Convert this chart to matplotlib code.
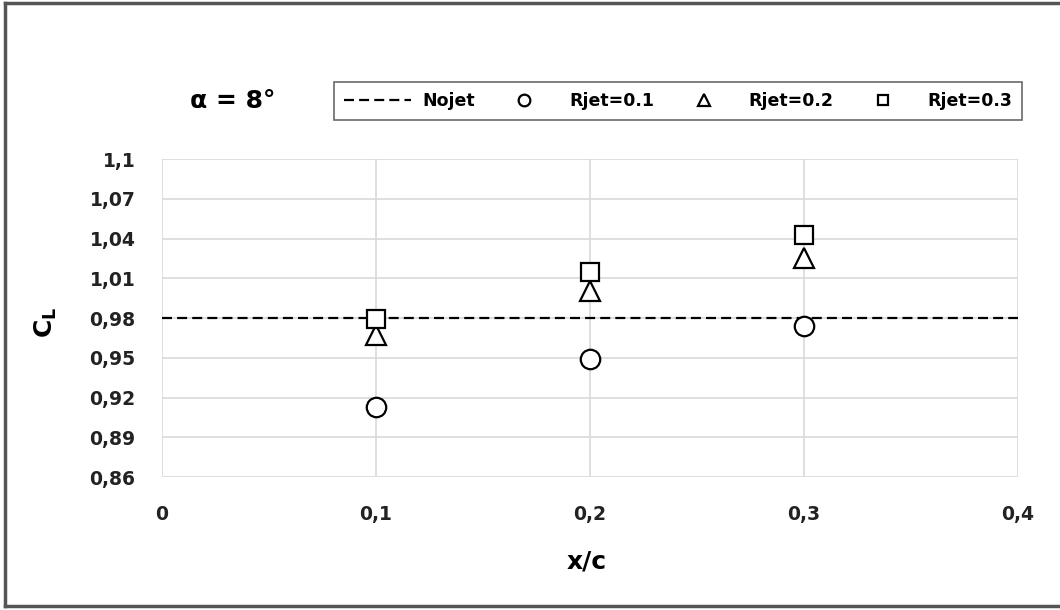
#!/usr/bin/env python3
"""lift coefficient vs jet position, alpha = 8 deg"""
import matplotlib.pyplot as plt
from matplotlib.lines import Line2D
from matplotlib.ticker import FuncFormatter

# data
x_pos = [0.1, 0.2, 0.3]
cl_nojet = 0.98
cl_rjet01 = [0.9125, 0.949, 0.974]
cl_rjet02 = [0.967, 1.0005, 1.0255]
cl_rjet03 = [0.979, 1.0145, 1.043]
y_ticks = [0.86, 0.89, 0.92, 0.95, 0.98, 1.01, 1.04, 1.07, 1.1]
x_ticks = [0, 0.1, 0.2, 0.3, 0.4]

plt.rcParams['font.family'] = ['DejaVu Sans']
plt.rcParams['font.weight'] = 'bold'
plt.rcParams['mathtext.fontset'] = 'custom'
plt.rcParams['mathtext.rm'] = 'DejaVu Sans:bold'
plt.rcParams['mathtext.it'] = 'DejaVu Sans:bold'
plt.rcParams['mathtext.bf'] = 'DejaVu Sans:bold'

fig = plt.figure(figsize=(10.6, 6.1), dpi=100)
ax = fig.add_axes([0.1528, 0.218, 0.8075, 0.5213])

# outer frame of the picture (left, top, bottom edges)
W, H = 1060, 610
for xs, ys in [([5, 5], [3, 606]), ([5, W], [606, 606]), ([5, W], [3, 3])]:
    fig.add_artist(Line2D([x / W for x in xs], [1 - y / H for y in ys],
                          transform=fig.transFigure, color='#555555',
                          linewidth=2.5))

ax.axhline(cl_nojet, color='black', linestyle=(0, (4.5, 2.3)), linewidth=1.6,
           label='Nojet')
mk = dict(linestyle='none', markerfacecolor='white', markeredgecolor='black',
          markeredgewidth=1.6)
ax.plot(x_pos, cl_rjet01, marker='o', markersize=14, label='Rjet=0.1', **mk)
ax.plot(x_pos, cl_rjet02, marker='^', markersize=15, label='Rjet=0.2', **mk)
ax.plot(x_pos, cl_rjet03, marker='s', markersize=13, label='Rjet=0.3', **mk)

ax.set_xlim(0, 0.4)
ax.set_ylim(0.86, 1.1)
ax.set_xticks(x_ticks)
ax.set_yticks(y_ticks)
comma = FuncFormatter(lambda v, p: f'{v:g}'.replace('.', ','))
ax.xaxis.set_major_formatter(comma)
ax.yaxis.set_major_formatter(comma)
ax.tick_params(length=0, labelsize=13.5, colors='#222222')
ax.tick_params(axis='x', pad=20)
ax.tick_params(axis='y', pad=19)
ax.grid(True, color='#d9d9d9', linewidth=1.2)
ax.set_axisbelow(True)
for s in ax.spines.values():
    s.set_visible(False)

ax.set_xlabel('x/c', fontsize=18, fontweight='bold', va='center')
ax.xaxis.set_label_coords(0.4965, -0.267)
ax.set_ylabel('$\\mathrm{C}_\\mathrm{L}$', fontsize=18, va='center')
ax.yaxis.set_label_coords(-0.136, 0.487)

fig.text(233 / W, 1 - 101 / H, 'α = 8°', fontsize=18, fontweight='bold',
         ha='center', va='center')

leg = fig.legend(loc='center', bbox_to_anchor=(678 / W, 1 - 101 / H),
                 ncol=4, frameon=True, fancybox=False,
                 prop={'size': 12.5, 'weight': 'bold'},
                 handlelength=3.9, handletextpad=0.63, columnspacing=0.9,
                 markerscale=0.6, borderpad=0.55, borderaxespad=0)
leg.get_frame().set_edgecolor('#444444')
leg.get_frame().set_linewidth(1.2)

fig.savefig('out.png', dpi=100)
